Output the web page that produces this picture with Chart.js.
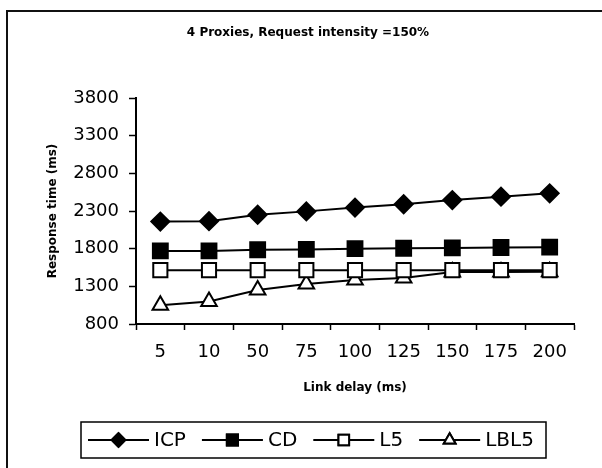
<!DOCTYPE html>
<html>
<head>
<meta charset="utf-8">
<script src="https://cdn.jsdelivr.net/npm/chart.js@4"></script>
<style>
  html, body { margin: 0; padding: 0; background: #fff; }
  #wrap { width: 602px; height: 468px; position: relative; }
</style>
</head>
<body>
<div id="wrap"><canvas id="myChart" width="602" height="468"></canvas></div>
<script>
const labels = ['5', '10', '50', '75', '100', '125', '150', '175', '200'];
const icp = [2160, 2165, 2250, 2295, 2345, 2390, 2445, 2490, 2535];
const cd = [1770, 1770, 1785, 1790, 1800, 1805, 1810, 1815, 1820];
const l5 = [1515, 1515, 1515, 1515, 1515, 1515, 1515, 1515, 1515];
const lbl5 = [1050, 1100, 1250, 1330, 1385, 1410, 1490, 1490, 1495];

const chartTitle = '4 Proxies, Request intensity =150%';
const xTitle = 'Link delay (ms)';
const yTitle = 'Response time (ms)';

const FONT = "'DejaVu Sans', sans-serif";

function series(label, data, style, fill, radius) {
    return {
        label: label,
        data: data,
        borderColor: '#000',
        borderWidth: 2,
        pointStyle: style,
        pointRadius: radius,
        pointHoverRadius: radius,
        pointBackgroundColor: fill,
        pointBorderColor: '#000',
        pointBorderWidth: 2,
        tension: 0,
        fill: false
    };
}

// outer frame
const framePlugin = {
    id: 'frame',
    beforeDraw(chart) {
        const c = chart.ctx;
        c.save();
        c.fillStyle = '#fff';
        c.fillRect(0, 0, chart.width, chart.height);
        c.strokeStyle = '#111';
        c.lineWidth = 2;
        c.strokeRect(7, 11, chart.width + 10, chart.height + 10);
        c.restore();
    }
};

// boxed legend with line + marker samples
const legendPlugin = {
    id: 'boxLegend',
    afterDraw(chart) {
        const c = chart.ctx;
        c.save();
        c.strokeStyle = '#000';
        c.lineWidth = 1.5;
        c.strokeRect(81, 422, 465, 36);
        c.font = '20px ' + FONT;
        c.textBaseline = 'middle';
        c.fillStyle = '#000';
        let x = 88;
        const y = 440;
        const lineLen = 61;
        chart.data.datasets.forEach(ds => {
            c.beginPath();
            c.lineWidth = 2;
            c.moveTo(x, y);
            c.lineTo(x + lineLen, y);
            c.stroke();
            Chart.helpers.drawPoint(c, {
                pointStyle: ds.pointStyle,
                radius: ds.pointRadius * 0.75,
                borderWidth: 2,
                rotation: 0
            }, x + lineLen / 2, y);
            c.fillStyle = ds.pointBackgroundColor;
            c.fill();
            c.stroke();
            c.fillStyle = '#000';
            x += lineLen + 5;
            c.fillText(ds.label, x, y + 1);
            x += c.measureText(ds.label).width + 16;
        });
        c.restore();
    }
};

const ctx = document.getElementById('myChart').getContext('2d');

new Chart(ctx, {
    type: 'line',
    data: {
        labels: labels,
        datasets: [
            series('ICP', icp, 'rectRot', '#000', 9),
            series('CD', cd, 'rect', '#000', 10.5),
            series('L5', l5, 'rect', '#fff', 10),
            series('LBL5', lbl5, 'triangle', '#fff', 9)
        ]
    },
    options: {
        responsive: false,
        animation: false,
        layout: {
            padding: { left: 42, right: 28, top: 0, bottom: 69 }
        },
        scales: {
            x: {
                offset: true,
                afterFit: s => { s.height = 75; },
                grid: {
                    display: true,
                    offset: true,
                    drawOnChartArea: false,
                    drawTicks: true,
                    tickLength: 6,
                    tickColor: '#000',
                    tickWidth: 1.5
                },
                border: { display: true, color: '#000', width: 2 },
                ticks: {
                    color: '#000',
                    font: { family: FONT, size: 18 },
                    padding: 12,
                    maxRotation: 0,
                    autoSkip: false
                },
                title: {
                    display: true,
                    text: xTitle,
                    color: '#000',
                    font: { family: FONT, size: 12, weight: 'bold' }
                }
            },
            y: {
                min: 800,
                max: 3800,
                afterFit: s => { s.width = 94; },
                grid: {
                    display: true,
                    drawOnChartArea: false,
                    drawTicks: true,
                    tickLength: 7,
                    tickColor: '#000',
                    tickWidth: 1.5
                },
                border: { display: true, color: '#000', width: 2 },
                ticks: {
                    stepSize: 500,
                    color: '#000',
                    font: { family: FONT, size: 18 },
                    padding: 10,
                    callback: v => String(v)
                },
                title: {
                    display: true,
                    text: yTitle,
                    color: '#000',
                    font: { family: FONT, size: 12, weight: 'bold' }
                }
            }
        },
        plugins: {
            legend: { display: false },
            tooltip: { enabled: false },
            title: {
                display: true,
                text: chartTitle,
                color: '#000',
                font: { family: FONT, size: 12, weight: 'bold' },
                padding: { top: 26, bottom: 57.6 }
            }
        }
    },
    plugins: [framePlugin, legendPlugin]
});
</script>
</body>
</html>
